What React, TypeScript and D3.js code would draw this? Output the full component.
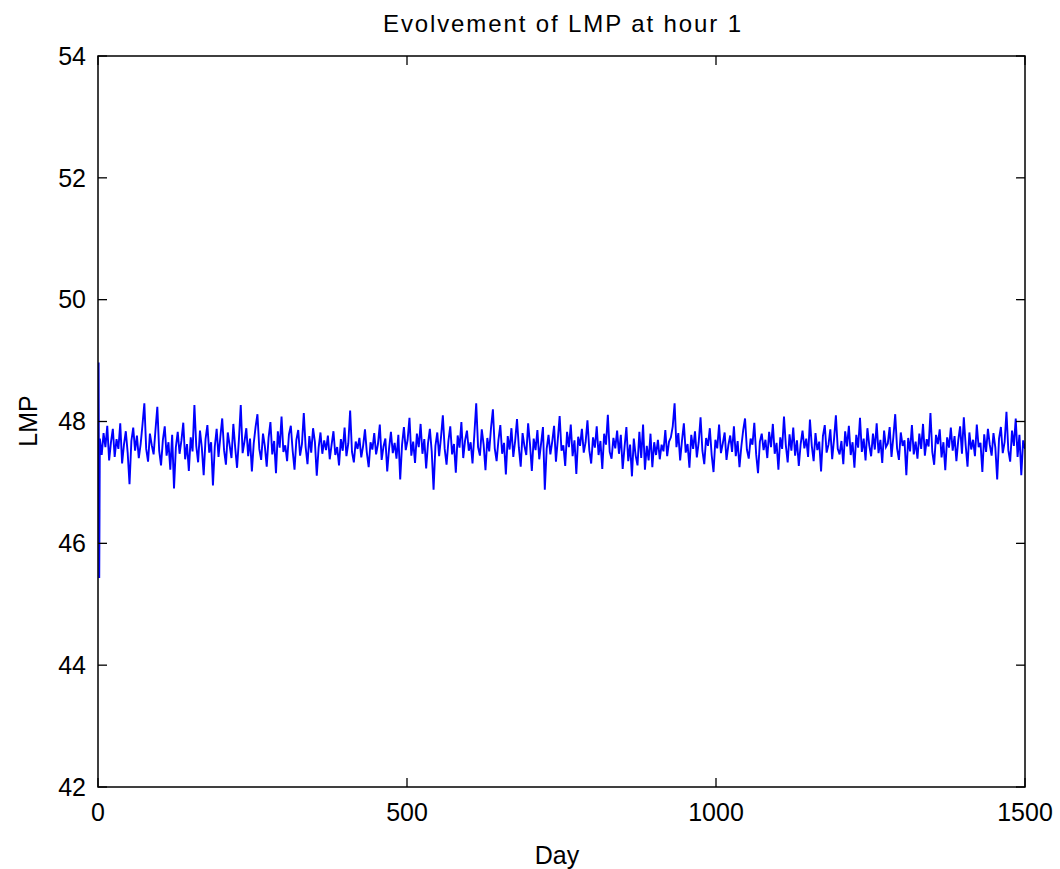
import React from "react";
import * as d3 from "d3";

const title = "Evolvement of LMP at hour 1";
const xLabel = "Day";
const yLabel = "LMP";
const xTicks = [0, 500, 1000, 1500];
const yTicks = [42, 44, 46, 48, 50, 52, 54];

// first days (start-up transient)
const warmupDays = [1, 2];
const warmupLMP = [48.97, 45.43];

// daily LMP sampled every 3 days from day 3 to day 1500
const sampleStart = 3;
const sampleStep = 3;
const lmp = [
  47.72, 47.45, 47.81, 47.58, 47.93, 47.36, 47.66, 47.88, 47.42, 47.71, 47.55, 47.97, 47.31, 47.62, 47.84, 47.49, 46.97, 47.68, 47.90, 47.52,
  47.77, 47.40, 47.63, 47.95, 48.30, 47.55, 47.34, 47.80, 47.61, 47.46, 47.86, 48.24, 47.52, 47.28, 47.70, 47.92, 47.44, 47.66, 47.21, 47.78,
  46.90, 47.58, 47.83, 47.47, 47.69, 47.98, 47.38, 47.63, 47.19, 47.74, 47.51, 48.27, 47.60, 47.33, 47.85, 47.57, 47.12, 47.71, 47.94, 47.49,
  47.66, 46.95, 47.59, 47.88, 47.42, 47.75, 48.05, 47.53, 47.29, 47.82, 47.61, 47.40, 47.96, 47.57, 47.24, 47.70, 48.27, 47.48, 47.67, 47.89,
  47.43, 47.72, 47.18, 47.64, 47.91, 48.12, 47.55, 47.37, 47.80, 47.59, 47.26, 47.73, 47.99, 47.46, 47.68, 47.15, 47.84, 47.57, 48.08, 47.50,
  47.61, 47.35, 47.79, 47.93, 47.52, 47.21, 47.70, 47.86, 47.44, 47.63, 48.14, 47.58, 47.30, 47.76, 47.49, 47.89, 47.66, 47.11, 47.57, 47.82,
  47.47, 47.69, 47.53, 47.77, 47.38, 47.62, 47.84, 47.45, 47.58, 47.28, 47.71, 47.52, 47.90, 47.43, 47.64, 48.18, 47.50, 47.33, 47.67, 47.55,
  47.73, 47.41, 47.60, 47.87, 47.49, 47.25, 47.66, 47.54, 47.81, 47.46, 47.63, 47.95, 47.37, 47.59, 47.72, 47.18, 47.56, 47.83, 47.48, 47.65,
  47.39, 47.78, 47.05, 47.62, 47.91, 47.53, 47.70, 48.06, 47.44, 47.67, 47.32, 47.80, 47.58, 47.96, 47.47, 47.71, 47.23, 47.64, 47.88, 47.51,
  46.88, 47.60, 47.82, 47.43, 47.74, 48.10, 47.55, 47.29, 47.68, 47.92, 47.46, 47.63, 47.16, 47.77, 47.57, 47.99, 47.40, 47.69, 47.85, 47.52,
  47.66, 47.31, 47.79, 48.30, 47.58, 47.44, 47.87, 47.62, 47.20, 47.73, 47.51, 47.90, 48.20, 47.56, 47.35, 47.70, 47.94, 47.47, 47.65, 47.13,
  47.76, 47.54, 47.89, 47.42, 47.68, 48.04, 47.57, 47.26, 47.81, 47.60, 47.45, 47.97, 47.63, 47.19, 47.72, 47.53, 47.86, 47.38, 47.64, 47.91,
  46.88, 47.55, 47.78, 47.46, 47.67, 47.93, 47.34, 47.70, 48.09, 47.52, 47.61, 47.27, 47.83, 47.58, 47.95, 47.43, 47.69, 47.14, 47.75, 47.60,
  47.88, 47.49, 47.66, 48.02, 47.53, 47.31, 47.74, 47.57, 47.92, 47.45, 47.68, 47.22, 47.80, 47.62, 48.11, 47.50, 47.39, 47.73, 47.56, 47.85,
  47.47, 47.78, 47.22, 47.58, 47.91, 47.35, 47.62, 47.10, 47.72, 47.44, 47.28, 47.83, 47.40, 47.95, 47.21, 47.60, 47.36, 47.80, 47.25, 47.66,
  47.45, 47.70, 47.38, 47.62, 47.51, 47.86, 47.43, 47.67, 47.74, 47.92, 48.30, 47.58, 47.81, 47.36, 47.69, 47.97, 47.49, 47.63, 47.24, 47.78,
  47.55, 47.84, 47.41, 47.66, 48.07, 47.52, 47.30, 47.73, 47.60, 47.89, 47.45, 47.17, 47.70, 47.56, 47.95, 47.48, 47.64, 47.82, 47.37, 47.61,
  47.77, 47.50, 47.92, 47.43, 47.68, 47.25, 47.59, 47.86, 48.05, 47.54, 47.39, 47.72, 47.62, 47.98, 47.46, 47.15, 47.67, 47.80, 47.53, 47.70,
  47.40, 47.83, 47.58, 47.96, 47.47, 47.65, 47.21, 47.74, 47.55, 48.08, 47.61, 47.33, 47.79, 47.52, 47.90, 47.44, 47.69, 47.27, 47.63, 47.85,
  47.56, 47.72, 47.42, 48.03, 47.60, 47.35, 47.81, 47.53, 47.67, 47.18, 47.76, 47.94, 47.49, 47.62, 47.87, 47.38, 47.71, 48.10, 47.55, 47.46,
  47.68, 47.30, 47.84, 47.59, 47.93, 47.45, 47.66, 47.24, 47.78, 47.57, 48.06, 47.50, 47.72, 47.36, 47.89, 47.61, 47.43, 47.80, 47.54, 47.97,
  47.48, 47.70, 47.32, 47.85, 47.58, 47.64, 47.91, 47.42, 47.75, 48.12, 47.56, 47.37, 47.82, 47.60, 47.69, 47.12, 47.73, 47.51, 47.94, 47.46,
  47.67, 47.39, 47.80, 47.55, 47.96, 47.44, 47.71, 47.59, 48.14, 47.50, 47.29, 47.78, 47.63, 47.87, 47.41, 47.66, 47.20, 47.74, 47.57, 47.90,
  47.52, 47.76, 47.35, 47.69, 47.92, 47.47, 48.07, 47.61, 47.26, 47.82, 47.54, 47.70, 47.43, 47.95, 47.58, 47.65, 47.17, 47.79, 47.50, 47.88,
  47.62, 47.44, 47.81, 47.57, 47.05, 47.72, 47.91, 47.48, 47.66, 48.16, 47.53, 47.34, 47.85, 47.60, 48.05, 47.42, 47.78, 47.12, 47.69, 47.55,
];

const W = 1060;
const H = 869;
const M = { left: 98, right: 1025, top: 56, bottom: 787 };
const FONT = "'Liberation Sans', Arial, Helvetica, sans-serif";

export default function App() {
  const x = d3.scaleLinear().domain([0, 1500]).range([M.left, M.right]);
  const y = d3.scaleLinear().domain([42, 54]).range([M.bottom, M.top]);

  const points: [number, number][] = [
    ...warmupDays.map((d, i) => [d, warmupLMP[i]] as [number, number]),
    ...lmp.map((v, i) => [sampleStart + i * sampleStep, v] as [number, number]),
  ];
  const line = d3
    .line<[number, number]>()
    .x((d) => x(d[0]))
    .y((d) => y(d[1]));

  const tickLen = 9;

  return (
    <svg
      width={W}
      height={H}
      style={{ position: "absolute", left: 0, top: 0, background: "#fff" }}
      fontFamily={FONT}
    >
      <rect x={0} y={0} width={W} height={H} fill="#fff" />
      <defs>
        <clipPath id="plotclip">
          <rect x={M.left} y={M.top} width={M.right - M.left} height={M.bottom - M.top} />
        </clipPath>
      </defs>

      <path
        d={line(points) || ""}
        fill="none"
        stroke="#0000ff"
        strokeWidth={1.9}
        strokeLinejoin="miter"
        clipPath="url(#plotclip)"
      />

      {/* box */}
      <rect
        x={M.left}
        y={M.top}
        width={M.right - M.left}
        height={M.bottom - M.top}
        fill="none"
        stroke="#000"
        strokeWidth={1.5}
      />

      {/* y ticks */}
      {yTicks.map((t) => (
        <g key={"y" + t}>
          <line x1={M.left} x2={M.left + tickLen} y1={y(t)} y2={y(t)} stroke="#000" strokeWidth={1.3} />
          <line x1={M.right} x2={M.right - tickLen} y1={y(t)} y2={y(t)} stroke="#000" strokeWidth={1.3} />
          <text x={86} y={y(t)} dy="0.35em" textAnchor="end" fontSize={25} fill="#000">
            {t}
          </text>
        </g>
      ))}

      {/* x ticks */}
      {xTicks.map((t) => (
        <g key={"x" + t}>
          <line x1={x(t)} x2={x(t)} y1={M.bottom} y2={M.bottom - tickLen} stroke="#000" strokeWidth={1.3} />
          <line x1={x(t)} x2={x(t)} y1={M.top} y2={M.top + tickLen} stroke="#000" strokeWidth={1.3} />
          <text x={x(t)} y={821} textAnchor="middle" fontSize={25} fill="#000">
            {t}
          </text>
        </g>
      ))}

      <text x={562} y={32} textAnchor="middle" fontSize={24} fill="#000" textLength={358} lengthAdjust="spacing">
        {title}
      </text>
      <text x={557} y={864} textAnchor="middle" fontSize={25} fill="#000">
        {xLabel}
      </text>
      <text transform="translate(37,421) rotate(-90)" textAnchor="middle" fontSize={25} fill="#000">
        {yLabel}
      </text>
    </svg>
  );
}
